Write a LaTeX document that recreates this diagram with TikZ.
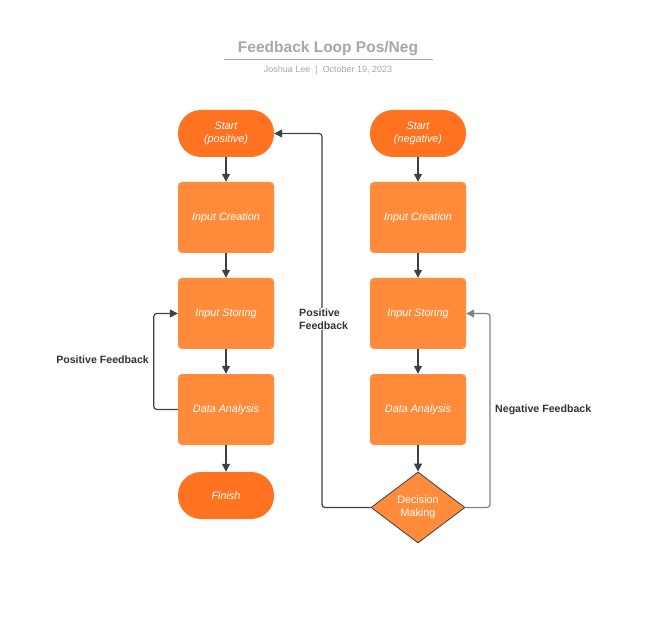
\documentclass[tikz,border=0pt]{standalone}
\usepackage{fontspec}
\setmainfont{Liberation Sans}
\usetikzlibrary{shapes.geometric,arrows.meta}
\definecolor{pill}{HTML}{FF7320}
\definecolor{boxc}{HTML}{FF8B3B}
\definecolor{linec}{HTML}{3A414A}
\definecolor{lineg}{HTML}{7E848C}
\definecolor{titlec}{HTML}{A3A7AE}
\definecolor{labc}{HTML}{333333}
\begin{document}
\begin{tikzpicture}[x=1pt,y=-1pt,
  pillbox/.style={rectangle,rounded corners=23pt,fill=pill,minimum width=96pt,minimum height=47pt,text=white,font=\fontsize{10.8}{13}\selectfont\itshape,align=center,inner sep=0pt},
  procbox/.style={rectangle,rounded corners=4pt,fill=boxc,minimum width=96pt,minimum height=71pt,text=white,font=\fontsize{10.8}{13}\selectfont\itshape,align=center,inner sep=0pt},
  decbox/.style={diamond,fill=boxc,draw=linec,line width=0.8pt,minimum width=94pt,minimum height=71pt,aspect=1.32,text=white,font=\fontsize{10.8}{13}\selectfont,align=center,inner sep=0pt},
  conn/.style={draw=linec,line width=1.2pt,-{Triangle[length=8pt,width=8pt]}},
  loopc/.style={conn,rounded corners=3pt},
  lab/.style={text=labc,font=\fontsize{10.6}{13}\selectfont\bfseries,inner sep=1pt}
]
\useasboundingbox[fill=white] (0,0) rectangle (648,620);
% title
\node[text=titlec,font=\fontsize{15.5}{18}\selectfont\bfseries] (title) at (328,49) {Feedback Loop Pos/Neg};
\draw[titlec,line width=1pt] (224,60) -- (433,60);
\node[text=titlec,font=\fontsize{9}{11}\selectfont] (sub) at (328,70) {Joshua Lee \ | \ October 19, 2023};
% left column
\node[pillbox] (sp) at (226,133.5) {Start\\(positive)};
\node[procbox] (icp) at (226,217.5) {Input Creation};
\node[procbox] (isp) at (226,313.5) {Input Storing};
\node[procbox] (dap) at (226,409.5) {Data Analysis};
\node[pillbox] (fin) at (226,495.5) {Finish};
% right column
\node[pillbox] (sn) at (418,133.5) {Start\\(negative)};
\node[procbox] (icn) at (418,217.5) {Input Creation};
\node[procbox] (isn) at (418,313.5) {Input Storing};
\node[procbox] (dan) at (418,409.5) {Data Analysis};
\node[decbox] (dec) at (418,507.5) {Decision\\Making};
% arrows
\draw[conn] (sp) -- (icp);
\draw[conn] (icp) -- (isp);
\draw[conn] (isp) -- (dap);
\draw[conn] (dap) -- (fin);
\draw[conn] (sn) -- (icn);
\draw[conn] (icn) -- (isn);
\draw[conn] (isn) -- (dan);
\draw[conn] (dan) -- (dec);
% loops
\draw[loopc] (dap.west) -- ++(-24,0) |- (isp.west);
\node[lab,anchor=east] (lp) at (150,360) {Positive Feedback};
\draw[loopc] (dec.west) -- (322,507.5) |- (sp.east);
\node[lab,fill=white,align=left,anchor=west] (lb) at (298,319) {Positive\\Feedback};
\draw[loopc,draw=lineg] (dec.east) -- (490,507.5) |- (isn.east);
\node[lab,anchor=west] (ln) at (494,410) {Negative Feedback};
\end{tikzpicture}
\end{document}
